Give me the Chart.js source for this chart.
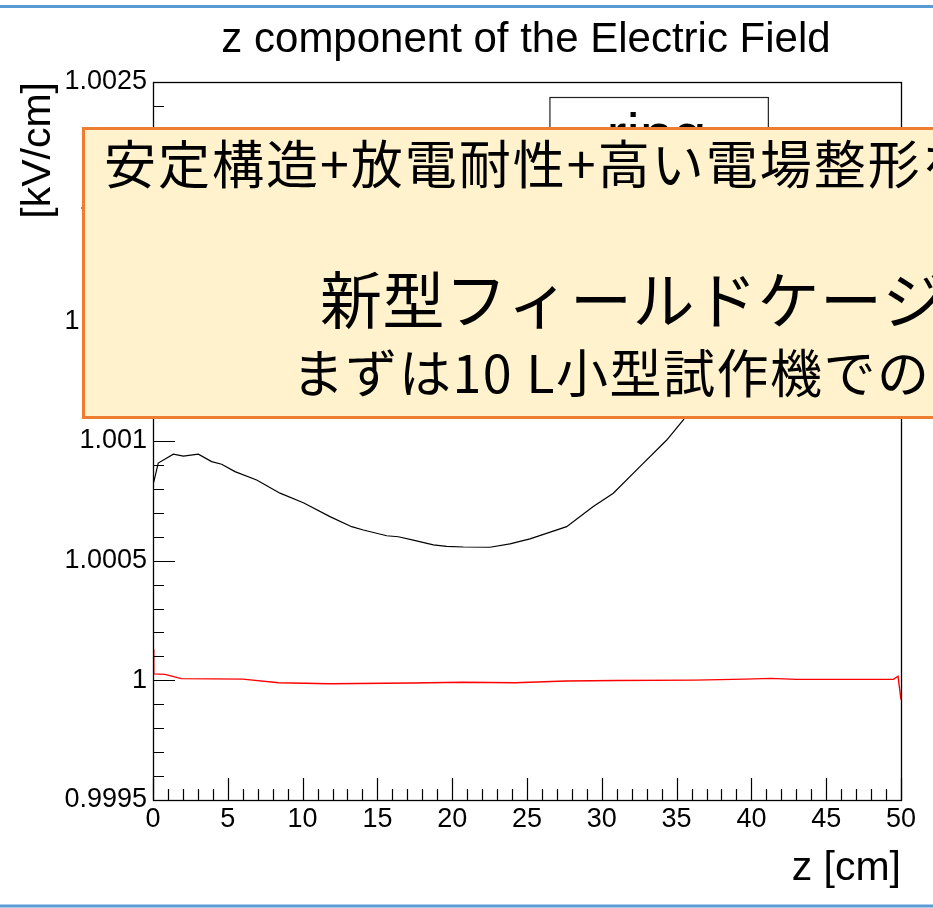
<!DOCTYPE html>
<html>
<head>
<meta charset="utf-8">
<script src="https://cdn.jsdelivr.net/npm/chart.js@4/dist/chart.umd.min.js"></script>
<style>
  html, body { margin: 0; padding: 0; background: #fff; overflow: hidden; }
  #wrap { width: 933px; height: 908px; position: relative; }
  canvas { display: block; }
</style>
</head>
<body>
<div id="wrap"><canvas id="c" width="933" height="908"></canvas></div>
<script>
// Ez along the drift axis (z in cm, Ez in kV/cm)
const zBlack  = [0, 0.35, 1.36, 2.03, 3.03, 3.92, 4.59, 5.48, 6.93, 8.49, 10.05, 11.83, 13.28, 14.06,
                 15.62, 16.40, 17.40, 18.74, 19.63, 20.74, 22.53, 23.86, 25.2, 27.65, 29.43, 30.77,
                 32.55, 34.34, 35.45, 37.0, 39.0, 41.0, 43.0, 45.0, 47.0, 49.0, 50.0];
const ezBlack = [1.000816, 1.000908, 1.000945, 1.000937, 1.000945, 1.000914, 1.000903, 1.000872,
                 1.000837, 1.000782, 1.000742, 1.000684, 1.000642, 1.000628, 1.000604, 1.000600,
                 1.000586, 1.000566, 1.000560, 1.000557, 1.000556, 1.000570, 1.000591, 1.000642,
                 1.000726, 1.000782, 1.000893, 1.001004, 1.001088, 1.00124, 1.00143, 1.00160,
                 1.00174, 1.00185, 1.00193, 1.00199, 1.00200];

const zRed  = [0, 0.05, 0.8, 1.9, 6.0, 8.4, 11.8, 17.3, 20.7, 24.2, 27.6, 31.0, 36.2, 39.6,
               41.3, 43.0, 49.5, 49.8, 50.0];
const ezRed = [1.000130, 1.000027, 1.000025, 1.000007, 1.000005, 0.999990, 0.999986, 0.999989,
               0.999992, 0.999990, 0.999997, 0.999999, 1.000001, 1.000005, 1.000008, 1.000004,
               1.000004, 1.000017, 0.999919];

const xTickLabels = ['0', '5', '10', '15', '20', '25', '30', '35', '40', '45', '50'];
const yTickLabels = ['0.9995', '1', '1.0005', '1.001', '1.0015', '1.002', '1.0025'];

const titleText  = 'z component of the Electric Field';
const xTitleText = 'z [cm]';
const yTitleText = '[kV/cm]';
const legendText = 'ring';
const noteLines  = ['安定構造+放電耐性+高い電場整形を', '新型フィールドケージ', 'まずは10 L小型試作機での'];

const X_MIN = 0, X_MAX = 50, X_MAJOR = 5, X_MINOR = 1;
const Y_MIN = 0.9995, Y_MAX = 1.0025, Y_MAJOR = 0.0005, Y_MINOR = 0.0001;

const SANS = '"Liberation Sans", Arial, Helvetica, sans-serif';
const CJK  = '"Noto Sans CJK JP", "Noto Sans CJK SC", sans-serif';

const toPoints = (xs, ys) => xs.map((x, i) => ({ x: x, y: ys[i] }));

// ROOT-style inward ticks, frame, legend pave, slide decoration and note box
const decorations = {
  id: 'decorations',
  afterDatasetsDraw(chart) {
    const ctx = chart.ctx;
    const a = chart.chartArea;
    const xs = chart.scales.x, ys = chart.scales.y;
    ctx.save();
    ctx.strokeStyle = '#000';
    ctx.lineWidth = 1.2;
    ctx.beginPath();
    const nx = Math.round((X_MAX - X_MIN) / X_MINOR);
    for (let k = 0; k <= nx; k++) {
      const v = X_MIN + k * X_MINOR;
      const px = Math.round(xs.getPixelForValue(v)) + 0.5;
      const len = (k % Math.round(X_MAJOR / X_MINOR) === 0) ? 22 : 11;
      ctx.moveTo(px, a.bottom);
      ctx.lineTo(px, a.bottom - len);
    }
    const ny = Math.round((Y_MAX - Y_MIN) / Y_MINOR);
    for (let k = 0; k <= ny; k++) {
      const v = Y_MIN + k * Y_MINOR;
      const py = Math.round(ys.getPixelForValue(v)) + 0.5;
      const len = (k % Math.round(Y_MAJOR / Y_MINOR) === 0) ? 22 : 11;
      ctx.moveTo(a.left, py);
      ctx.lineTo(a.left + len, py);
    }
    ctx.stroke();
    // frame
    ctx.lineWidth = 1.3;
    ctx.strokeRect(a.left + 0.5, a.top + 0.5, a.right - a.left, a.bottom - a.top);

    // legend pave
    const lx = a.left + (a.right - a.left) * 0.53;
    const lw = (a.right - a.left) * 0.292;
    const ly = a.top + 15;
    ctx.fillStyle = '#fff';
    ctx.fillRect(lx, ly, lw, 120);
    ctx.lineWidth = 1.2;
    ctx.strokeStyle = '#222';
    ctx.strokeRect(lx + 0.5, ly + 0.5, lw, 120);
    ctx.fillStyle = '#000';
    ctx.font = '60px ' + SANS;
    ctx.textAlign = 'left';
    ctx.textBaseline = 'alphabetic';
    ctx.fillText(legendText, lx + 57, ly + 58);
    ctx.restore();
  },
  afterDraw(chart) {
    const ctx = chart.ctx;
    const a = chart.chartArea;
    const W = chart.width, H = chart.height;
    ctx.save();

    // title
    ctx.fillStyle = '#000';
    ctx.font = '42px ' + SANS;
    ctx.textAlign = 'center';
    ctx.textBaseline = 'alphabetic';
    ctx.fillText(titleText, 526, 52);

    // x axis title, right-aligned to the frame
    ctx.font = '41px ' + SANS;
    ctx.textAlign = 'right';
    ctx.fillText(xTitleText, a.right, 880);

    // y axis title, rotated, aligned to the top of the frame
    ctx.save();
    ctx.translate(50, a.top);
    ctx.rotate(-Math.PI / 2);
    ctx.textAlign = 'right';
    ctx.fillText(yTitleText, 0, 0);
    ctx.restore();

    // slide rules (top / bottom)
    ctx.strokeStyle = '#5B9BD5';
    ctx.lineWidth = 3;
    ctx.beginPath();
    ctx.moveTo(0, 6.5); ctx.lineTo(W, 6.5);
    ctx.moveTo(0, 906); ctx.lineTo(W, 906);
    ctx.stroke();

    // note box
    ctx.fillStyle = '#FFF2CC';
    ctx.fillRect(82, 128, W, 291);
    ctx.strokeStyle = '#ED7D31';
    ctx.lineWidth = 3;
    ctx.strokeRect(83.5, 128.5, W, 289);

    ctx.fillStyle = '#000';
    ctx.textAlign = 'left';
    ctx.textBaseline = 'alphabetic';
    ctx.font = '52px ' + CJK;
    ctx.letterSpacing = '2px';
    ctx.fillText(noteLines[0], 104, 184);
    ctx.font = '62px ' + CJK;
    ctx.letterSpacing = '0.5px';
    ctx.fillText(noteLines[1], 320, 324);
    ctx.font = '52px ' + CJK;
    ctx.letterSpacing = '1.5px';
    ctx.fillText(noteLines[2], 292, 393);
    ctx.letterSpacing = '0px';
    ctx.restore();
  }
};

new Chart(document.getElementById('c').getContext('2d'), {
  type: 'scatter',
  data: {
    datasets: [
      { data: toPoints(zBlack, ezBlack), showLine: true, borderColor: '#000000', borderWidth: 1.2,
        pointRadius: 0, tension: 0, fill: false },
      { data: toPoints(zRed, ezRed), showLine: true, borderColor: '#ff0000', borderWidth: 1.4,
        pointRadius: 0, tension: 0, fill: false }
    ]
  },
  options: {
    responsive: false,
    animation: false,
    devicePixelRatio: 1,
    layout: { padding: { left: 0, right: 32, top: 82, bottom: 0 } },
    plugins: { legend: { display: false }, tooltip: { enabled: false }, title: { display: false } },
    scales: {
      x: {
        type: 'linear', min: X_MIN, max: X_MAX,
        grid: { display: false, drawTicks: false },
        border: { display: false },
        ticks: {
          stepSize: X_MAJOR, padding: 3, color: '#000', autoSkip: false, maxRotation: 0,
          font: { family: SANS, size: 27 },
          callback: (v, i) => xTickLabels[i]
        },
        afterFit: s => { s.height = 108; }
      },
      y: {
        type: 'linear', min: Y_MIN, max: Y_MAX,
        grid: { display: false, drawTicks: false },
        border: { display: false },
        ticks: {
          stepSize: Y_MAJOR, padding: 6, color: '#000', autoSkip: false,
          font: { family: SANS, size: 27 },
          callback: (v, i) => yTickLabels[i]
        },
        afterFit: s => { s.width = 153; }
      }
    }
  },
  plugins: [decorations]
});
</script>
</body>
</html>
